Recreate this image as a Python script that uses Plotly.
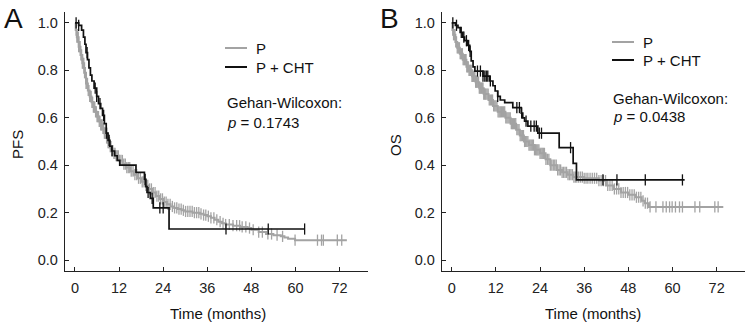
import numpy as np
import plotly.graph_objects as go

# ---------------- DATA ----------------
# Panel A: PFS
pfs_p_t = [0, 0.2, 0.5, 1.0, 1.5, 2.0, 2.5, 3.0, 3.5, 4.0, 4.5, 5.0, 5.5, 6.0, 6.5, 7.0, 7.5, 8.0, 8.5, 9.0,
           9.5, 10, 10.5, 11, 12, 13, 14, 15, 16, 17, 18, 19, 20, 21, 22, 23, 24, 25, 26, 27, 28, 29, 30, 32,
           34, 35, 36, 37, 38, 39, 40, 41, 43, 45, 47, 48, 50, 52, 54, 56, 57, 58, 59.9, 74]
pfs_p_s = [1.0, 0.97, 0.94, 0.90, 0.865, 0.83, 0.79, 0.745, 0.715, 0.69, 0.665, 0.645, 0.625, 0.605, 0.585,
           0.57, 0.555, 0.535, 0.515, 0.495, 0.478, 0.462, 0.45, 0.44, 0.42, 0.405, 0.39, 0.375, 0.36, 0.345,
           0.33, 0.315, 0.30, 0.285, 0.27, 0.258, 0.245, 0.235, 0.226, 0.22, 0.215, 0.21, 0.205, 0.20, 0.195,
           0.19, 0.185, 0.178, 0.17, 0.162, 0.155, 0.15, 0.145, 0.14, 0.135, 0.128, 0.118, 0.11, 0.105, 0.10,
           0.095, 0.09, 0.084, 0.084]
pfs_p_cens = [0.3, 0.5, 0.7, 0.9, 1.0, 1.2, 1.4, 1.6, 1.8, 2.0, 2.2, 2.4, 2.6, 2.8, 3.0, 3.2, 3.4, 3.6,
              3.8, 4.0, 4.2, 4.4, 4.6, 4.8, 5.0, 5.2, 5.4, 5.6, 5.8, 6.0, 6.2, 6.4, 6.6, 6.8, 7.0, 7.2,
              7.4, 7.6, 7.8, 8.0, 8.2, 8.4, 8.6, 8.8, 9.0, 9.2, 9.4, 9.6, 9.8, 10.0, 10.3, 10.6, 10.9,
              11.2, 11.5, 11.8, 12.1, 12.5, 12.9, 13.3, 13.7, 14.1, 14.5, 14.9, 15.3, 15.8, 16.3, 16.8,
              17.3, 17.8, 18.3, 18.8, 19.3, 19.8, 20.3, 20.8, 21.3, 21.8, 22.3, 22.8, 23.3, 23.8, 24.3,
              24.8, 25.3, 25.9, 26.5, 27.1, 27.7, 28.3, 28.9, 29.5, 30.1, 30.7, 31.3, 31.9, 32.5, 33.1,
              33.7, 34.3, 35.0, 35.6, 36.3, 37.0, 37.8, 38.6, 39.5, 40.3, 41.0, 42.0, 43.0, 44.0, 44.8,
              45.5, 46.5, 47.5, 48.5, 50.0, 51.0, 52.5, 53.5, 55.0, 56.5, 59.9, 66.0, 67.1, 67.6, 71.4,
              72.6]

pfs_c_t = [0, 1.0, 1.8, 2.3, 2.7, 3.0, 3.4, 3.8, 4.2, 4.6, 5.2, 5.9, 6.4, 7.0, 7.5, 8.0, 8.5, 9.0, 9.5,
           10.0, 10.8, 11.5, 12.2, 16.6, 18.9, 19.3, 19.6, 20.5, 21.3, 25.6, 62.5]
pfs_c_s = [1.0, 0.99, 0.97, 0.94, 0.91, 0.875, 0.845, 0.81, 0.78, 0.755, 0.725, 0.69, 0.66, 0.64, 0.61,
           0.575, 0.535, 0.505, 0.48, 0.46, 0.44, 0.42, 0.40, 0.37, 0.34, 0.31, 0.285, 0.26, 0.22, 0.131,
           0.131]
pfs_c_cens = [0.3, 1.0, 3.3, 5.5, 5.9, 6.8, 7.8, 8.6, 9.3, 10.1, 19.1, 19.9, 21.0, 23.1, 24.0, 41.1,
              52.6, 62.5]

# Panel B: OS
os_p_t = [0, 0.2, 0.5, 1.0, 1.5, 2.2, 3.0, 4.0, 4.6, 5.5, 6.5, 7.5, 8.7, 10, 11.2, 12.5, 14.6, 16,
          17.5, 18.5, 19.6, 21, 22.5, 24, 25.5, 26.8, 28.5, 30, 31.5, 33, 36, 40, 42, 44, 46, 48, 50,
          51.6, 52.5, 53.6, 73.8]
os_p_s = [1.0, 0.97, 0.95, 0.92, 0.895, 0.87, 0.845, 0.815, 0.80, 0.775, 0.75, 0.725, 0.70, 0.675, 0.65,
          0.625, 0.60, 0.575, 0.55, 0.525, 0.50, 0.485, 0.465, 0.45, 0.425, 0.40, 0.38, 0.37, 0.36, 0.35,
          0.345, 0.335, 0.315, 0.30, 0.285, 0.275, 0.265, 0.25, 0.24, 0.224, 0.224]
os_p_cens = [0.3, 0.5, 0.7, 0.9, 1.1, 1.3, 1.5, 1.7, 1.9, 2.1, 2.3, 2.5, 2.7, 2.9, 3.1, 3.3, 3.5, 3.7,
             3.9, 4.1, 4.3, 4.5, 4.7, 4.9, 5.1, 5.3, 5.5, 5.7, 5.9, 6.1, 6.3, 6.5, 6.7, 6.9, 7.1, 7.3,
             7.5, 7.7, 7.9, 8.1, 8.3, 8.5, 8.7, 8.9, 9.1, 9.3, 9.6, 9.9, 10.2, 10.5, 10.8, 11.1, 11.4,
             11.7, 12.0, 12.3, 12.6, 12.9, 13.2, 13.5, 13.8, 14.1, 14.4, 14.7, 15.0, 15.3, 15.6, 15.9,
             16.2, 16.5, 16.8, 17.1, 17.4, 17.7, 18.0, 18.3, 18.6, 18.9, 19.2, 19.5, 19.8, 20.1, 20.4,
             20.7, 21.0, 21.3, 21.6, 21.9, 22.2, 22.5, 22.8, 23.1, 23.4, 23.7, 24.0, 24.3, 24.6, 24.9,
             25.2, 25.6, 26.0, 26.4, 26.8, 27.2, 27.6, 28.0, 28.4, 28.8, 29.2, 29.6, 30.0, 30.4, 30.8,
             31.2, 31.6, 32.0, 32.4, 32.8, 33.2, 33.6, 34.0, 34.5, 35.0, 35.5, 36.0, 36.5, 37.0, 37.6,
             38.2, 38.8, 39.4, 40.0, 40.6, 41.2, 41.8, 42.4, 43.0, 43.6, 44.2, 44.8, 45.4, 46.0, 46.6,
             47.2, 47.8, 48.4, 49.0, 49.6, 50.2, 50.8, 51.4, 52.0, 52.6, 53.2, 53.9, 55.5, 57.4, 58.3,
             59.2, 59.9, 60.8, 61.9, 62.7, 66.1, 67.4, 71.5, 72.4]

os_c_t = [0, 1.0, 1.7, 2.3, 3.0, 3.5, 4.2, 4.9, 5.3, 5.8, 6.3, 8.5, 10.3, 11.2, 11.8, 12.5, 13.2, 14.4,
          16.6, 18.9, 19.3, 19.8, 20.7, 23.4, 29.2, 33.0, 33.9, 63.3]
os_c_s = [1.0, 0.99, 0.98, 0.96, 0.94, 0.925, 0.905, 0.88, 0.84, 0.815, 0.797, 0.776, 0.755, 0.735,
          0.713, 0.69, 0.675, 0.664, 0.643, 0.62, 0.60, 0.586, 0.565, 0.535, 0.474, 0.408, 0.338, 0.338]
os_c_cens = [0.3, 1.3, 2.6, 3.3, 4.0, 4.6, 5.0, 7.0, 7.8, 8.5, 9.0, 9.4, 9.8, 10.5, 12.5, 17.7, 18.4,
             19.0, 20.2, 21.5, 22.4, 23.0, 23.8, 24.4, 32.3, 41.1, 44.9, 52.6, 62.7]

x_ticks = [0, 12, 24, 36, 48, 60, 72]
y_ticks = [0.0, 0.2, 0.4, 0.6, 0.8, 1.0]
labels = ["P", "P + CHT"]
panel_letters = ["A", "B"]
y_titles = ["PFS", "OS"]
p_values = ["0.1743", "0.0438"]

GRAY = "#a3a3a3"
BLACK = "#111111"
FONT = "Liberation Sans, Arial, sans-serif"
W, H = 748, 326


def step_lookup(t_arr, s_arr, times):
    t_arr = np.asarray(t_arr)
    idx = np.searchsorted(t_arr, np.asarray(times), side="right") - 1
    return np.asarray(s_arr)[np.clip(idx, 0, len(s_arr) - 1)]


fig = go.Figure()

panels = [
    dict(xa="x", ya="y", curves=[(pfs_p_t, pfs_p_s, pfs_p_cens, GRAY, 2.0),
                                 (pfs_c_t, pfs_c_s, pfs_c_cens, BLACK, 1.7)]),
    dict(xa="x2", ya="y2", curves=[(os_p_t, os_p_s, os_p_cens, GRAY, 2.0),
                                   (os_c_t, os_c_s, os_c_cens, BLACK, 1.7)]),
]

for p in panels:
    for (t, s, c, col, lw) in p["curves"]:
        fig.add_trace(go.Scatter(x=t, y=s, mode="lines", line=dict(color=col, width=lw, shape="hv"),
                                 xaxis=p["xa"], yaxis=p["ya"], showlegend=False, hoverinfo="skip"))
        fig.add_trace(go.Scatter(x=c, y=step_lookup(t, s, c), mode="markers",
                                 marker=dict(symbol="line-ns", size=8, line=dict(color=col, width=1.3)),
                                 xaxis=p["xa"], yaxis=p["ya"], showlegend=False, hoverinfo="skip"))

# Layout (pixel geometry)
y_dom = [1 - 271 / H, 1 - 12 / H]
ax_common = dict(showline=True, linecolor="#222222", linewidth=1.3, ticks="inside", ticklen=4,
                 tickwidth=1, tickcolor="#222222", showgrid=False, zeroline=False,
                 tickfont=dict(family=FONT, size=14.5, color="#222222"))
fig.update_layout(
    width=W, height=H, margin=dict(l=0, r=0, t=0, b=0),
    paper_bgcolor="white", plot_bgcolor="white",
    xaxis=dict(domain=[65 / W, 368 / W], range=[-2.72, 79.75], tickvals=x_ticks, anchor="y",
               ticklabelstandoff=3, **ax_common),
    yaxis=dict(domain=y_dom, range=[-0.046, 1.046], tickvals=y_ticks, tickformat=".1f", anchor="x",
               ticklabelstandoff=3, **ax_common),
    xaxis2=dict(domain=[442 / W, 745 / W], range=[-2.64, 79.7], tickvals=x_ticks, anchor="y2",
                ticklabelstandoff=3, **ax_common),
    yaxis2=dict(domain=y_dom, range=[-0.046, 1.046], tickvals=y_ticks, tickformat=".1f", anchor="x2",
                ticklabelstandoff=3, **ax_common),
)


def ann(x, y, text, size=15, xanchor="center", angle=0):
    fig.add_annotation(x=x / W, y=1 - y / H, xref="paper", yref="paper", text=text, showarrow=False,
                       xanchor=xanchor, yanchor="middle", textangle=angle,
                       font=dict(family=FONT, size=size, color="#111111"))


geo = [
    dict(letter=(14, 18), ytitle=(17, 145), xtitle=(218, 313), leg_x=225, leg_y=(48, 67),
         gw=(225, 103, 122)),
    dict(letter=(389, 18), ytitle=(395, 145), xtitle=(593, 313), leg_x=612, leg_y=(42, 60),
         gw=(611, 98, 117)),
]
for i, g in enumerate(geo):
    ann(*g["letter"], panel_letters[i], size=28)
    ann(*g["ytitle"], y_titles[i], angle=-90)
    ann(*g["xtitle"], "Time (months)")
    for j, (lab, col) in enumerate(zip(labels, [GRAY, BLACK])):
        yy = g["leg_y"][j]
        fig.add_shape(type="line", xref="paper", yref="paper", x0=g["leg_x"] / W, x1=(g["leg_x"] + 22) / W,
                      y0=1 - yy / H, y1=1 - yy / H, line=dict(color=col, width=2))
        ann(g["leg_x"] + 29, yy, lab, xanchor="left")
    ann(g["gw"][0], g["gw"][1], "Gehan-Wilcoxon:", xanchor="left")
    ann(g["gw"][0], g["gw"][2], "<i>p</i> = " + p_values[i], xanchor="left")

fig.write_html("out.html")
